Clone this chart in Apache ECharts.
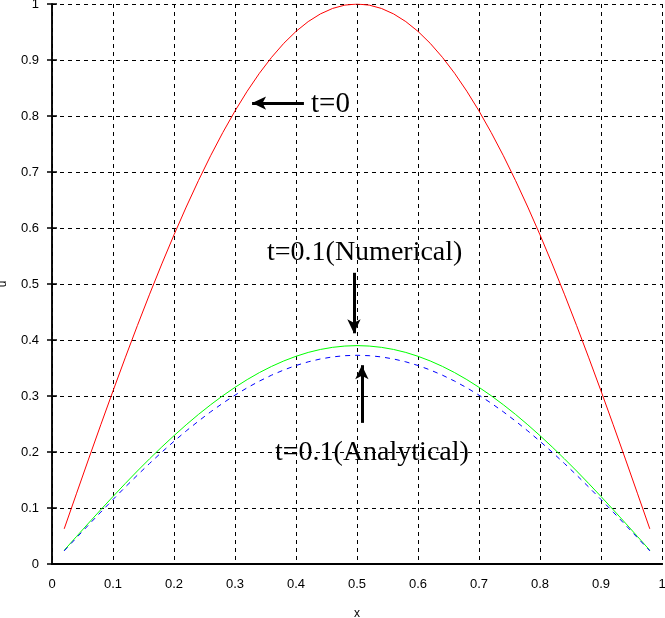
<!DOCTYPE html>
<html>
<head>
<meta charset="utf-8">
<script src="https://cdn.jsdelivr.net/npm/echarts@6/dist/echarts.min.js"></script>
<style>
html,body{margin:0;padding:0;background:#fff;}
#chart{width:665px;height:618px;}
</style>
</head>
<body>
<div id="chart"></div>
<script>
const xValues = [0.02,0.04,0.06,0.08,0.10,0.12,0.14,0.16,0.18,0.20,0.22,0.24,0.26,0.28,0.30,0.32,0.34,0.36,0.38,0.40,0.42,0.44,0.46,0.48,0.50,
  0.52,0.54,0.56,0.58,0.60,0.62,0.64,0.66,0.68,0.70,0.72,0.74,0.76,0.78,0.80,0.82,0.84,0.86,0.88,0.90,0.92,0.94,0.96,0.98];
const initialU = [0.0628,0.1253,0.1874,0.2487,0.3090,0.3681,0.4258,0.4818,0.5358,0.5878,0.6374,0.6845,0.7290,0.7705,0.8090,0.8443,0.8763,0.9048,0.9298,0.9511,0.9686,0.9823,0.9921,0.9980,1.0000,
  0.9980,0.9921,0.9823,0.9686,0.9511,0.9298,0.9048,0.8763,0.8443,0.8090,0.7705,0.7290,0.6845,0.6374,0.5878,0.5358,0.4818,0.4258,0.3681,0.3090,0.2487,0.1874,0.1253,0.0628];
const numericalU = [0.0245,0.0489,0.0731,0.0970,0.1205,0.1436,0.1661,0.1879,0.2090,0.2292,0.2486,0.2670,0.2843,0.3005,0.3155,0.3293,0.3418,0.3529,0.3626,0.3709,0.3778,0.3831,0.3869,0.3892,0.3900,
  0.3892,0.3869,0.3831,0.3778,0.3709,0.3626,0.3529,0.3418,0.3293,0.3155,0.3005,0.2843,0.2670,0.2486,0.2292,0.2090,0.1879,0.1661,0.1436,0.1205,0.0970,0.0731,0.0489,0.0245];
const analyticalU = [0.0234,0.0467,0.0698,0.0927,0.1152,0.1372,0.1587,0.1796,0.1997,0.2191,0.2376,0.2551,0.2717,0.2872,0.3015,0.3147,0.3266,0.3372,0.3465,0.3545,0.3610,0.3661,0.3698,0.3720,0.3727,
  0.3720,0.3698,0.3661,0.3610,0.3545,0.3465,0.3372,0.3266,0.3147,0.3015,0.2872,0.2717,0.2551,0.2376,0.2191,0.1997,0.1796,0.1587,0.1372,0.1152,0.0927,0.0698,0.0467,0.0234];
const tickValues = [0,0.1,0.2,0.3,0.4,0.5,0.6,0.7,0.8,0.9,1];
const annotations = [
  {text: 't=0', from: [0.413, 0.823], to: [0.328, 0.823]},
  {text: 't=0.1(Numerical)', from: [0.495, 0.520], to: [0.495, 0.412]},
  {text: 't=0.1(Analytical)', from: [0.508, 0.252], to: [0.508, 0.355]}
];

const pairs = ys => xValues.map((x, i) => [x, ys[i]]);
const labelFmt = v => { const t = tickValues.find(tv => Math.abs(tv - v) < 1e-9); return t === undefined ? '' : String(t); };

const chart = echarts.init(document.getElementById('chart'));
const gridLine = {show: true, lineStyle: {color: '#000', type: [4, 4], width: 1}};
const axisFont = {fontFamily: 'Liberation Sans', fontSize: 13, color: '#000'};

chart.setOption({
  animation: false,
  backgroundColor: '#fff',
  grid: {left: 52, right: 3, top: 4, bottom: 54, containLabel: false, outerBoundsMode: 'none'},
  xAxis: [{
    type: 'value', min: 0, max: 1, interval: 0.1,
    name: 'x', nameLocation: 'middle', nameGap: 44,
    nameTextStyle: {fontFamily: 'Liberation Sans', fontSize: 12, color: '#000'},
    axisLine: {show: true, lineStyle: {color: '#000', width: 2}},
    axisTick: {show: false},
    axisLabel: Object.assign({margin: 14, formatter: labelFmt}, axisFont),
    splitLine: gridLine
  }, {
    type: 'value', min: 0, max: 1, interval: 0.1, position: 'top',
    axisLine: {show: true, lineStyle: {color: '#000', width: 2}},
    axisTick: {show: false}, axisLabel: {show: false}, splitLine: {show: false}
  }],
  yAxis: [{
    type: 'value', min: 0, max: 1, interval: 0.1,
    name: 'u', nameLocation: 'middle', nameGap: 43, nameRotate: 90,
    nameTextStyle: {fontFamily: 'Liberation Sans', fontSize: 12, color: '#000'},
    axisLine: {show: true, lineStyle: {color: '#000', width: 1.5}},
    axisTick: {show: true, inside: true, length: 5, lineStyle: {color: '#000', width: 1.5}},
    axisLabel: Object.assign({margin: 13, formatter: labelFmt}, axisFont),
    splitLine: gridLine
  }, {
    type: 'value', min: 0, max: 1, interval: 0.1, position: 'right',
    axisLine: {show: true, lineStyle: {color: '#000', width: 1.5}},
    axisTick: {show: true, inside: true, length: 5, lineStyle: {color: '#000', width: 1.5}},
    axisLabel: {show: false}, splitLine: {show: false}
  }],
  series: [
    {type: 'line', name: 't=0', data: pairs(initialU), showSymbol: false, symbol: 'none',
     lineStyle: {color: '#ff0000', width: 1}, z: 3},
    {type: 'line', name: 'numerical', data: pairs(numericalU), showSymbol: false, symbol: 'none',
     lineStyle: {color: '#00ff00', width: 1}, z: 3},
    {type: 'line', name: 'analytical', data: pairs(analyticalU), showSymbol: false, symbol: 'none',
     lineStyle: {color: '#0000ff', width: 1, type: [5, 5]}, z: 4,
     markLine: {
       silent: true, symbol: ['none', 'arrow'], symbolSize: [10, 14],
       label: {show: false},
       lineStyle: {color: '#000', width: 3, type: 'solid'},
       data: annotations.map(a => [{coord: a.from}, {coord: a.to}])
     }}
  ],
  graphic: [
    {type: 'text', left: 311, top: 90, style: {text: 't=0', font: '29px "Liberation Serif"', fill: '#000'}},
    {type: 'text', left: 267, top: 239, style: {text: 't=0.1(Numerical)', font: '28px "Liberation Serif"', fill: '#000'}},
    {type: 'text', left: 275, top: 439, style: {text: 't=0.1(Analytical)', font: '28px "Liberation Serif"', fill: '#000'}}
  ]
});
</script>
</body>
</html>
